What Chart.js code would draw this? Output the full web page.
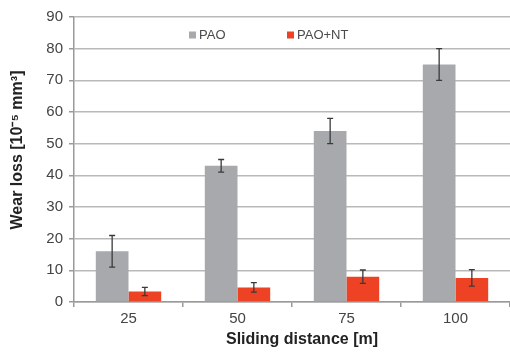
<!DOCTYPE html>
<html>
<head>
<meta charset="utf-8">
<script src="https://cdn.jsdelivr.net/npm/chart.js@4/dist/chart.umd.min.js"></script>
<style>
html,body{margin:0;padding:0;background:#fff;overflow:hidden;}
#wrap{position:relative;width:510px;height:354px;}
</style>
</head>
<body>
<div id="wrap"><canvas id="c" width="510" height="354"></canvas></div>
<script>
const categories = ["25", "50", "75", "100"];
const paoValues = [16, 43, 54, 75];
const paoErrors = [5, 2, 4, 5];
const paoNtValues = [3.3, 4.6, 8, 7.6];
const paoNtErrors = [1.3, 1.5, 2.1, 2.6];
const yTicks = [0, 10, 20, 30, 40, 50, 60, 70, 80, 90];
const xTitle = 'Sliding distance [m]';
const yTitle = 'Wear loss [10⁻⁵ mm³]';

const errorSets = [paoErrors, paoNtErrors];
const FONT = '"Liberation Sans", Arial, sans-serif';

const errorBarPlugin = {
  id: 'errorBars',
  afterDatasetsDraw(chart) {
    const ctx = chart.ctx;
    const y = chart.scales.y;
    ctx.save();
    ctx.strokeStyle = '#3a3a3a';
    ctx.lineWidth = 1.3;
    chart.data.datasets.forEach((ds, di) => {
      const meta = chart.getDatasetMeta(di);
      meta.data.forEach((bar, i) => {
        const v = ds.data[i], e = errorSets[di][i];
        const yt = y.getPixelForValue(v + e), yb = y.getPixelForValue(v - e);
        const x = bar.x, cap = 3;
        ctx.beginPath();
        ctx.moveTo(x, yt); ctx.lineTo(x, yb);
        ctx.moveTo(x - cap, yt); ctx.lineTo(x + cap, yt);
        ctx.moveTo(x - cap, yb); ctx.lineTo(x + cap, yb);
        ctx.stroke();
      });
    });
    ctx.restore();
  }
};

const legendPlugin = {
  id: 'innerLegend',
  afterDraw(chart) {
    const ctx = chart.ctx;
    const pos = [189, 287];
    const yc = 35;
    ctx.save();
    ctx.font = '13px ' + FONT;
    ctx.textBaseline = 'middle';
    ctx.textAlign = 'left';
    chart.data.datasets.forEach((ds, i) => {
      ctx.fillStyle = ds.backgroundColor;
      ctx.fillRect(pos[i], yc - 3.5, 7, 7);
      ctx.fillStyle = '#4a4a4a';
      ctx.fillText(ds.label, pos[i] + 10, yc + 0.5);
    });
    ctx.restore();
  }
};

const titlePlugin = {
  id: 'axisTitles',
  afterDraw(chart) {
    const ctx = chart.ctx;
    ctx.save();
    ctx.fillStyle = '#222';
    ctx.font = 'bold 16px ' + FONT;
    ctx.textAlign = 'center';
    ctx.textBaseline = 'middle';
    ctx.fillText(xTitle, 302, 340);
    ctx.translate(17.5, 150);
    ctx.rotate(-Math.PI / 2);
    ctx.fillText(yTitle, 0, 0);
    ctx.restore();
  }
};

new Chart(document.getElementById('c'), {
  type: 'bar',
  data: {
    labels: categories,
    datasets: [
      { label: 'PAO', data: paoValues, backgroundColor: '#a7a9ac', categoryPercentage: 0.6, barPercentage: 1.0 },
      { label: 'PAO+NT', data: paoNtValues, backgroundColor: '#ee4224', categoryPercentage: 0.6, barPercentage: 1.0 }
    ]
  },
  options: {
    responsive: false,
    animation: false,
    devicePixelRatio: 1,
    layout: { padding: { top: 17, right: 0, bottom: 0, left: 0 } },
    plugins: { legend: { display: false }, tooltip: { enabled: false } },
    scales: {
      x: {
        offset: true,
        grid: { offset: true, drawOnChartArea: false, drawTicks: true, tickLength: 5, color: '#9a9a9a', lineWidth: 1.5 },
        border: { display: true, color: '#9a9a9a', width: 1.5 },
        ticks: { color: '#444', font: { family: FONT, size: 15 }, padding: 3 },
        title: { display: false },
        afterFit(s) { s.height = 52; }
      },
      y: {
        min: 0, max: 90,
        afterBuildTicks(s) { s.ticks = yTicks.map(v => ({ value: v })); },
        grid: { color: '#b9b9b9', lineWidth: 1.5, drawTicks: true, tickLength: 5, tickColor: '#9a9a9a' },
        border: { display: true, color: '#9a9a9a', width: 1.5 },
        ticks: { color: '#444', font: { family: FONT, size: 15 }, padding: 6 },
        title: { display: false },
        afterFit(s) { s.width = 74; }
      }
    }
  },
  plugins: [errorBarPlugin, legendPlugin, titlePlugin]
});
</script>
</body>
</html>
